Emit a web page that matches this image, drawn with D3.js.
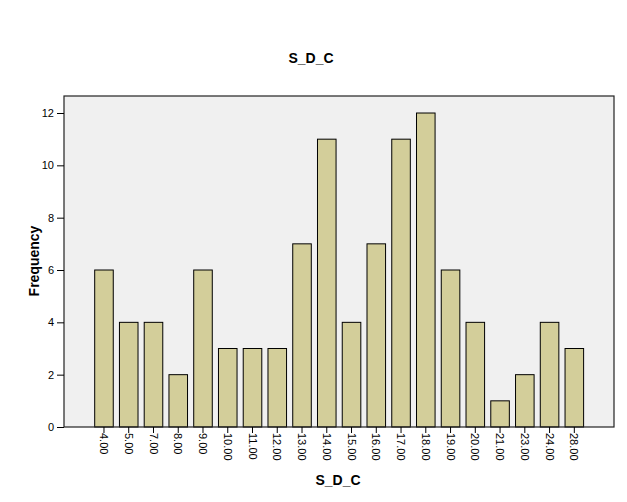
<!DOCTYPE html>
<html>
<head>
<meta charset="utf-8">
<script src="https://cdn.jsdelivr.net/npm/d3@7"></script>
<style>
body{margin:0;background:#fff;}
text{font-family:"Liberation Sans",Arial,sans-serif;}
</style>
</head>
<body>
<svg id="c" width="627" height="502"></svg>
<script>
const categories = ["4.00","5.00","7.00","8.00","9.00","10.00","11.00","12.00","13.00","14.00","15.00","16.00","17.00","18.00","19.00","20.00","21.00","23.00","24.00","28.00"];
const frequencies = [6,4,4,2,6,3,3,3,7,11,4,7,11,12,6,4,1,2,4,3];
const yTicks = [0,2,4,6,8,10,12];

const svg = d3.select("#c");
const plot = {left:64, right:614, top:96, bottom:427};

svg.append("rect").attr("x",plot.left).attr("y",plot.top)
  .attr("width",plot.right-plot.left).attr("height",plot.bottom-plot.top)
  .attr("fill","#f0f0f0");

const x = d3.scaleBand().domain(categories).range([91.6,586.7])
  .paddingInner(0.25).paddingOuter(0.125);
const y = d3.scaleLinear().domain([0,12.65]).range([plot.bottom,plot.top]);

svg.append("g").selectAll("rect").data(frequencies).join("rect")
  .attr("x",(d,i)=>x(categories[i]))
  .attr("y",d=>y(d))
  .attr("width",x.bandwidth())
  .attr("height",d=>y(0)-y(d))
  .attr("fill","#d3ce9a").attr("stroke","#000").attr("stroke-width",1);

svg.append("rect").attr("x",plot.left).attr("y",plot.top)
  .attr("width",plot.right-plot.left).attr("height",plot.bottom-plot.top)
  .attr("fill","none").attr("stroke","#222").attr("stroke-width",1.2);

const ya = svg.append("g").attr("transform",`translate(${plot.left},0)`)
  .call(d3.axisLeft(y).tickValues(yTicks).tickSize(7).tickPadding(3).tickFormat(d3.format("d")));
ya.select(".domain").remove();
ya.selectAll("line").attr("stroke","#000");
ya.selectAll("text").attr("font-size",11).attr("fill","#000");

const xa = svg.append("g").attr("transform",`translate(0,${plot.bottom})`)
  .call(d3.axisBottom(x).tickSize(6).tickPadding(2));
xa.select(".domain").remove();
xa.selectAll("line").attr("stroke","#000");
xa.selectAll("text").attr("font-size",11).attr("fill","#000")
  .attr("transform","rotate(90)").attr("text-anchor","start")
  .attr("x",6).attr("y",0).attr("dy","0.35em");

svg.append("text").attr("x",311).attr("y",63).attr("text-anchor","middle")
  .attr("font-size",14).attr("font-weight","bold").text("S_D_C");
svg.append("text").attr("x",338).attr("y",485).attr("text-anchor","middle")
  .attr("font-size",14).attr("font-weight","bold").text("S_D_C");
svg.append("text").attr("transform","translate(39,261) rotate(-90)").attr("text-anchor","middle")
  .attr("font-size",14).attr("font-weight","bold").text("Frequency");
</script>
</body>
</html>
